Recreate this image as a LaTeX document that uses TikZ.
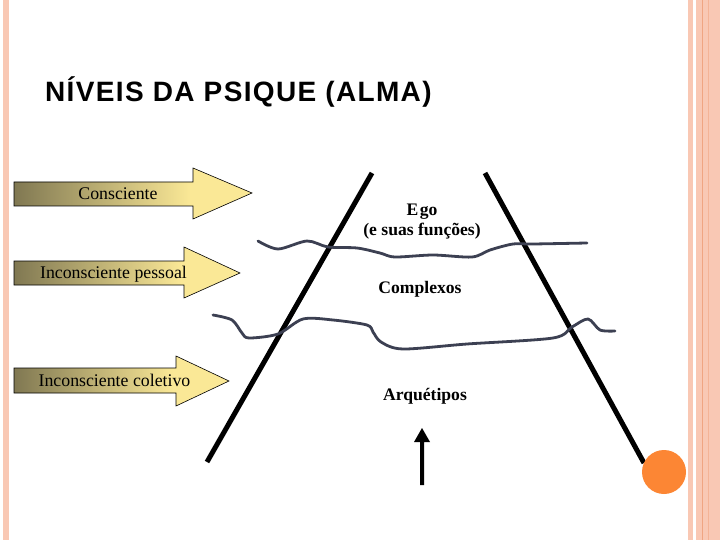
\documentclass[tikz,border=0pt]{standalone}
\usepackage{fontspec}
\setmainfont{Liberation Serif}
\newfontfamily\titlefont[LetterSpace=4.8]{Liberation Sans}
\definecolor{peach}{RGB}{249,200,180}
\definecolor{peachdark}{RGB}{240,165,130}
\definecolor{olivedk}{RGB}{128,120,82}
\definecolor{lightyel}{RGB}{250,232,150}
\definecolor{wavecol}{RGB}{60,64,82}
\definecolor{orangeball}{RGB}{252,134,52}
\pgfdeclarehorizontalshading{arrowshade}{100bp}{color(0bp)=(olivedk); color(25bp)=(olivedk); color(62bp)=(lightyel); color(100bp)=(lightyel)}
\begin{document}
\begin{tikzpicture}[x=1pt,y=-1pt,
  bigarrow/.style={shading=arrowshade, draw=black, line width=0.6pt},
  armlabel/.style={anchor=base, inner sep=0pt, font=\fontsize{17.8}{20}\selectfont},
  pyrlabel/.style={anchor=base, inner sep=0pt, font=\fontsize{17.6}{20}\selectfont\bfseries},
  side/.style={line width=5pt, black},
  wave/.style={line width=2.8pt, wavecol, line cap=round, line join=round}]
\useasboundingbox (0,0) rectangle (720,540);
\fill[white] (0,0) rectangle (720,540);
% borders
\fill[peach] (3,0) rectangle (9,540);
\fill[peach] (688,0) rectangle (693,540);
\fill[peach] (696,0) rectangle (720,540);
\draw[peachdark, line width=0.8pt] (702.5,0) -- (702.5,540);
\draw[peachdark!60!peach, line width=0.6pt] (708,0) -- (708,540);
% title
\node[anchor=base west, inner sep=0pt, font=\titlefont\bfseries\fontsize{28}{32}\selectfont] (title) at (45,101.5) {NÍVEIS DA PSIQUE (ALMA)};
% arrows
\shade[bigarrow] (14,182) -- (193,182) -- (193,168) -- (252,193) -- (193,219) -- (193,206) -- (14,206) -- cycle;
\shade[bigarrow] (14,261) -- (184,261) -- (184,247) -- (240,273) -- (184,298) -- (184,285) -- (14,285) -- cycle;
\shade[bigarrow] (14,368) -- (176,368) -- (176,356) -- (229,381) -- (176,406) -- (176,393) -- (14,393) -- cycle;
\node[armlabel] (cons) at (118,200) {Consciente};
\node[armlabel] (pess) at (113.5,278) {Inconsciente pessoal};
\node[armlabel] (colet) at (114.5,386.5) {Inconsciente coletivo};
% pyramid sides
\coordinate (lt) at (372,173);
\coordinate (lb) at (207,462);
\coordinate (rt) at (485,173);
\coordinate (rb) at (644,463);
\draw[side] (lt) -- (lb);
\draw[side] (rt) -- (rb);
\fill[orangeball] (664,472) circle (22);
% waves
\draw[wave] plot[smooth, tension=0.5] coordinates {(258,241) (278,249) (307,241) (328,247) (357,248) (380,253) (395,257) (433,255) (472,257) (490,250) (513,244) (533,244) (587,243)};
\draw[wave] plot[smooth, tension=0.5] coordinates {(213,315) (232,320) (242,333) (249,338) (278,334) (303,319) (333,320) (367,325) (373,332) (381,342) (403,349) (467,344) (553,338) (572,327) (588,319) (600,330) (615,331)};
% labels
\node[pyrlabel] (ego) at (422,215) {E\kern1.5pt go};
\node[pyrlabel] (func) at (422,236) {(e suas funções)};
\node[pyrlabel] (compl) at (420,293) {Complexos};
\node[pyrlabel] (arq) at (425,400.5) {Arquétipos};
% up arrow
\coordinate (ua) at (422,485);
\coordinate (ub) at (422,428);
\fill[black] (420,485) rectangle (424,441) (414,442) -- (422,428) -- (430,442) -- cycle;
\path (ua) -- (ub);
\end{tikzpicture}
\end{document}
